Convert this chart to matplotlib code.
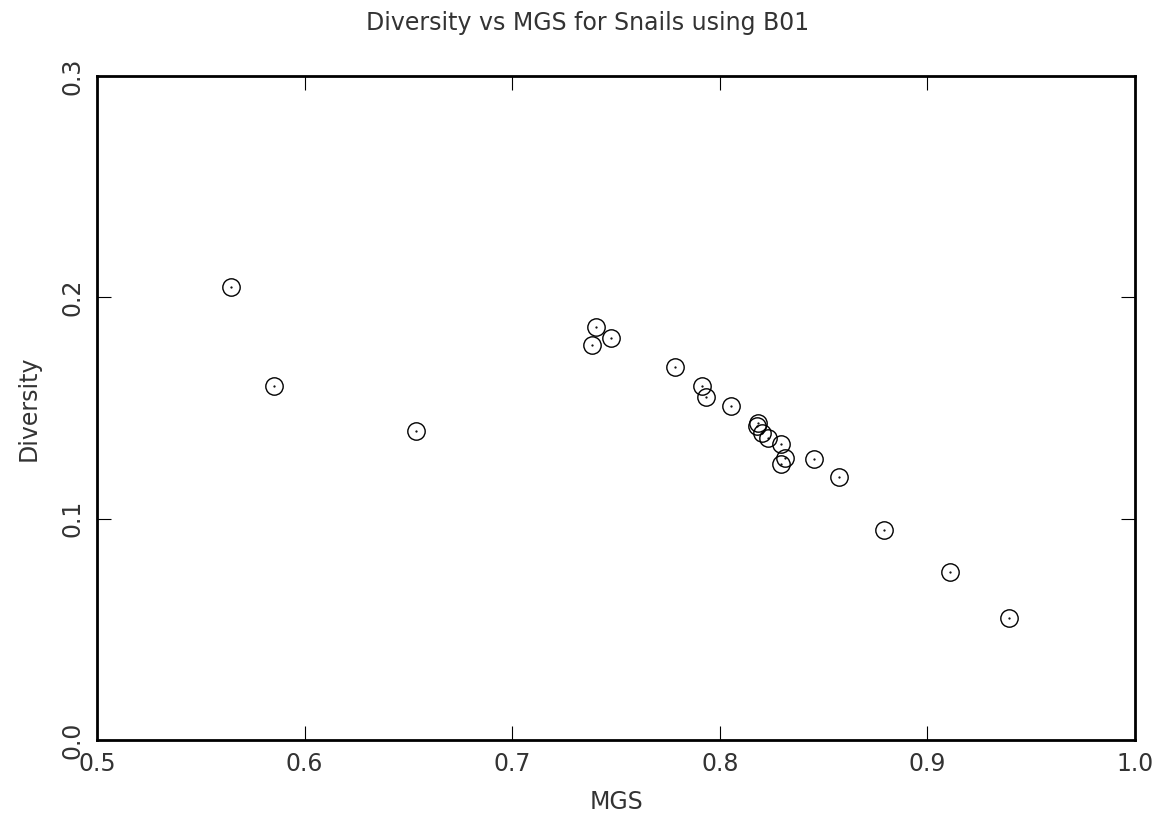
import matplotlib
matplotlib.use('Agg')
import matplotlib.pyplot as plt

# 数据
mgs = [0.5645, 0.5853, 0.6537, 0.7384, 0.7403, 0.7476, 0.7784, 0.7914, 0.7933,
       0.8054, 0.8183, 0.8179, 0.8202, 0.8232, 0.8295, 0.8314, 0.8295, 0.8453,
       0.8574, 0.8791, 0.9109, 0.9393]
diversity = [0.2047, 0.1600, 0.1396, 0.1785, 0.1866, 0.1817, 0.1686, 0.1600, 0.1550,
             0.1509, 0.1432, 0.1420, 0.1389, 0.1366, 0.1338, 0.1276, 0.1247, 0.1268,
             0.1188, 0.0949, 0.0759, 0.0551]
xticks = [0.5, 0.6, 0.7, 0.8, 0.9, 1.0]
yticks = [0.0, 0.1, 0.2, 0.3]

plt.rcParams['font.family'] = ['DejaVu Sans']
fig = plt.figure(figsize=(11.76, 8.32), dpi=100)
ax = fig.add_axes([0.0825, 0.1106, 0.8827, 0.7981])

ax.plot(mgs, diversity, 'o', mfc='none', mec='black', ms=12.5, mew=1.0)
ax.plot(mgs, diversity, '.', color='black', ms=1.2)

ax.set_xlim(0.5, 1.0)
ax.set_ylim(0.0, 0.3)
ax.set_xticks(xticks)
ax.set_yticks(yticks)
ax.set_xticklabels(['%.1f' % v for v in xticks])
ax.set_yticklabels(['%.1f' % v for v in yticks], rotation=90, va='center')
ax.tick_params(direction='in', length=10, width=0.8, top=True, right=True,
               labelsize=17, colors='black', pad=9)
ax.tick_params(axis='x', labelcolor='#333333')
ax.tick_params(axis='y', labelcolor='#333333')
for s in ax.spines.values():
    s.set_linewidth(2)

ax.set_xlabel('MGS', fontsize=17, color='#333333', labelpad=10)
ax.set_ylabel('Diversity', fontsize=17, color='#333333', labelpad=14)
fig.text(0.5, 0.972, 'Diversity vs MGS for Snails using B01', ha='center', va='center',
         fontsize=17, color='#333333')

plt.savefig('out.png', dpi=100)
